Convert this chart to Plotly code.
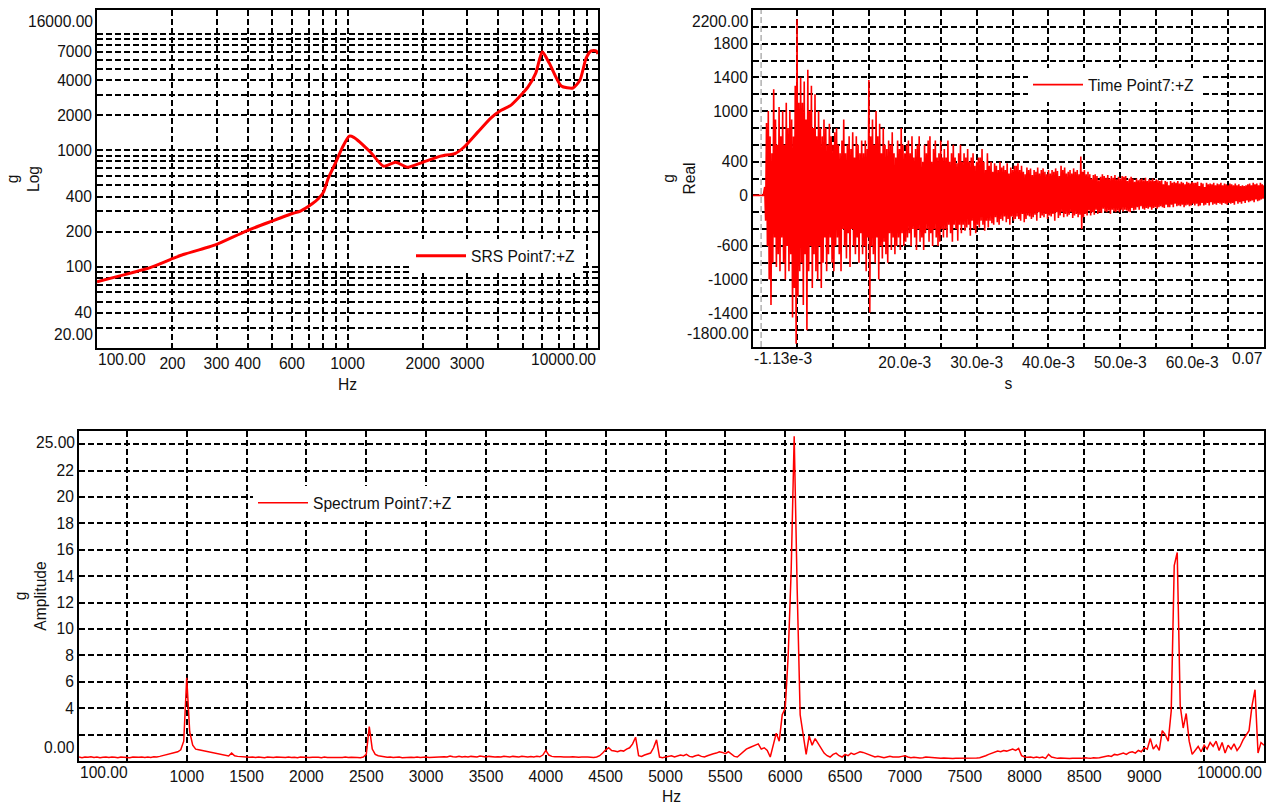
import numpy as np
import plotly.graph_objects as go

W, H = 1273, 805
FONT = "Liberation Sans, Arial, sans-serif"
FS = 15.6
RED = "#ff0000"
TXT = "#111111"

# ---------------- SRS (top-left) ----------------
srs_freq_hz = [100, 120, 139, 163, 200, 221, 275, 300, 398, 497, 603, 649, 725, 766, 801, 838,
               894, 955, 1016, 1059, 1236, 1393, 1556, 1741, 1995, 2353, 2700, 2914, 3311, 3733,
               4104, 4498, 5248, 5649, 5990, 6387, 7132, 7943, 8472, 8974, 9397, 9840, 10000]
srs_g = [74, 82, 89, 98, 117, 127, 146, 155, 204, 245, 286, 300, 348, 385, 434, 574,
         770, 1060, 1320, 1290, 961, 727, 787, 713, 787, 889, 941, 1060, 1430, 1890,
         2200, 2440, 3480, 4620, 7000, 5600, 3560, 3420, 4000, 6200, 7120, 7120, 6700]

srs_x_grid = [100, 200, 300, 400, 500, 600, 700, 800, 900,
              1000, 2000, 3000, 4000, 5000, 6000, 7000, 8000, 9000, 10000]
srs_x_labels = {200: "200", 300: "300", 400: "400", 600: "600",
                1000: "1000", 2000: "2000", 3000: "3000"}
srs_y_grid = [20, 30, 40, 50, 60, 70, 80, 90, 100, 200, 300, 400, 500, 600, 700, 800, 900,
              1000, 2000, 3000, 4000, 5000, 6000, 7000, 8000, 9000, 10000]
srs_y_labels = {40: "40", 100: "100", 200: "200", 400: "400", 1000: "1000",
                2000: "2000", 4000: "4000", 7000: "7000"}

# ---------------- Time (top-right) ----------------
time_pre_s = [-1.13e-3, 0.3e-3]
time_pre_g = [0, 0]
time_start_s = 0.5e-3
time_step_s = 0.125e-3
time_g = [
    # 0.5 - 5.375 ms
    100, -300, 860, -600, 1000, -1000, 700, -1300, 500, -800, 1260, -500, 900, -850, 600, -700, 1050, -900, 700, -500,
    1000, -800, 600, -1000, 1100, -600, 800, -900, 1000, -700, 900, -1450, 700, -1100, 1300, -1760, 2090, -1200, 1100, -900,
    # 5.5 - 10.375 ms
    1400, -800, 1100, -1300, 1350, -700, 900, -1600, 1490, -900, 1000, -600, 1300, -1100, 800, -700, 1200, -900, 700, -1000,
    1000, -600, 800, -1100, 700, -800, 900, -500, 800, -900, 600, -700, 850, -500, 700, -800, 600, -900, 750, -600,
    # 10.5 - 15.375 ms
    800, -500, 600, -700, 500, -900, 650, -400, 900, -600, 500, -750, 600, -450, 700, -850, 550, -400, 750, -600,
    450, -700, 700, -500, 600, -800, 500, -450, 650, -700, 500, -600, 650, -900, 550, -500, 1370, -1390, 700, -600,
    # 15.5 - 20.375 ms
    900, -700, 600, -800, 1000, -500, 700, -1000, 850, -600, 500, -750, 800, -550, 600, -700, 550, -800, 650, -450,
    600, -650, 750, -500, 500, -700, 450, -600, 650, -500, 550, -650, 800, -450, 600, -600, 500, -550, 600, -500,
    # 20.5 - 25.375 ms
    650, -450, 500, -600, 700, -400, 450, -500, 550, -650, 600, -400, 700, -550, 450, -500, 400, -650, 600, -450,
    500, -400, 650, -550, 700, -450, 400, -600, 550, -400, 650, -500, 450, -600, 500, -550, 650, -400, 450, -500,
    # 25.5 - 30.375 ms
    550, -400, 450, -500, 650, -350, 400, -450, 500, -550, 600, -350, 450, -400, 380, -540, 500, -350, 600, -450,
    400, -350, 500, -420, 450, -380, 550, -350, 400, -480, 450, -300, 500, -400, 350, -450, 400, -350, 450, -380,
    # 30.5 - 35.375 ms
    450, -300, 550, -350, 400, -420, 300, -300, 500, -380, 350, -300, 400, -330, 280, -350, 380, -260, 350, -320,
    300, -350, 400, -280, 330, -300, 350, -250, 300, -320, 380, -280, 260, -350, 330, -250, 300, -300, 350, -280,
    # 35.5 - 40.375 ms
    350, -250, 380, -280, 300, -300, 350, -220, 280, -320, 250, -280, 330, -240, 300, -250, 320, -280, 240, -260,
    300, -230, 280, -300, 330, -200, 260, -270, 300, -240, 320, -260, 280, -220, 250, -280, 300, -240, 260, -250,
    # 40.5 - 45.375 ms
    300, -220, 280, -300, 320, -200, 290, -270, 230, -240, 350, -200, 300, -260, 330, -220, 260, -250, 280, -230,
    300, -200, 260, -270, 320, -240, 280, -220, 300, -260, 250, -230, 460, -400, 280, -260, 300, -220, 250, -240,
    # 45.5 - 50.375 ms
    280, -180, 250, -240, 200, -200, 240, -230, 250, -170, 230, -220, 180, -200, 220, -210, 250, -160, 230, -190,
    210, -200, 240, -180, 200, -220, 230, -170, 210, -190, 240, -200, 190, -180, 220, -200, 200, -170, 230, -190,
    # 50.5 - 55.375 ms
    220, -170, 230, -180, 170, -190, 200, -200, 220, -150, 200, -180, 160, -170, 200, -140, 180, -170, 190, -130,
    200, -160, 180, -170, 210, -150, 170, -160, 190, -140, 180, -170, 200, -150, 170, -140, 190, -160, 180, -140,
    # 55.5 - 60.375 ms
    170, -130, 180, -140, 130, -150, 170, -110, 160, -140, 120, -140, 170, -110, 150, -140, 160, -100, 150, -130,
    170, -120, 140, -130, 160, -110, 150, -140, 130, -120, 160, -110, 150, -130, 140, -120, 160, -100, 150, -120,
    # 60.5 - 65.375 ms
    150, -100, 160, -130, 110, -120, 150, -90, 140, -120, 100, -110, 150, -90, 130, -120, 140, -80, 130, -110,
    150, -100, 120, -110, 140, -90, 130, -100, 150, -110, 120, -90, 140, -100, 130, -110, 120, -90, 140, -100,
    # 65.5 - 70.0 ms
    130, -90, 120, -110, 140, -70, 120, -100, 130, -80, 110, -100, 120, -70, 110, -90, 120, -60, 130, -80,
    140, -70, 120, -60, 150, -80, 130, -50, 140, -70, 120, -60, 150, -50, 130, -40, 120,
]
time_x_grid = [5e-3, 10e-3, 15e-3, 20e-3, 25e-3, 30e-3, 35e-3, 40e-3, 45e-3, 50e-3, 55e-3, 60e-3, 65e-3, 70e-3]
time_x_labels = {20e-3: "20.0e-3", 30e-3: "30.0e-3", 40e-3: "40.0e-3", 50e-3: "50.0e-3", 60e-3: "60.0e-3"}
time_y_grid = list(range(-1800, 2201, 200))
time_y_labels = {1800: "1800", 1400: "1400", 1000: "1000", 400: "400", 0: "0",
                 -600: "-600", -1000: "-1000", -1400: "-1400"}

# ---------------- Spectrum (bottom) ----------------
spec_start_hz = 100
spec_step_hz = 25
spec_g = [
    0.3, 0.25, 0.3, 0.28, 0.32, 0.27, 0.3, 0.25, 0.29, 0.31, 0.26, 0.3, 0.28, 0.24, 0.3, 0.27, 0.29, 0.25, 0.31, 0.28,
    0.28, 0.3, 0.26, 0.3, 0.27, 0.32, 0.3, 0.35, 0.4, 0.45, 0.5, 0.55, 0.6, 0.7, 0.85, 1.5, 6.3, 2.2, 1.2, 0.9,
    0.85, 0.8, 0.75, 0.7, 0.65, 0.6, 0.55, 0.5, 0.45, 0.4, 0.38, 0.6, 0.4, 0.35, 0.33, 0.3, 0.3, 0.28, 0.3, 0.27,
    0.3, 0.28, 0.25, 0.3, 0.27, 0.26, 0.3, 0.28, 0.25, 0.27, 0.3, 0.26, 0.28, 0.25, 0.3, 0.27, 0.29, 0.26, 0.28, 0.3,
    0.28, 0.25, 0.3, 0.27, 0.26, 0.3, 0.28, 0.25, 0.27, 0.3, 0.26, 0.28, 0.3, 0.27, 0.25, 0.3, 0.5, 2.6, 0.9, 0.5,
    0.4, 0.35, 0.3, 0.28, 0.3, 0.26, 0.28, 0.3, 0.25, 0.27, 0.3, 0.28, 0.26, 0.3, 0.27, 0.29, 0.3, 0.26, 0.28, 0.3,
    0.3, 0.35, 0.32, 0.3, 0.38, 0.33, 0.3, 0.36, 0.31, 0.34, 0.3, 0.35, 0.32, 0.3, 0.37, 0.33, 0.3, 0.35, 0.32, 0.3,
    0.33, 0.3, 0.36, 0.32, 0.3, 0.35, 0.33, 0.3, 0.36, 0.32, 0.3, 0.34, 0.31, 0.35, 0.32, 0.45, 0.8, 0.45, 0.35, 0.33,
    0.3, 0.32, 0.3, 0.28, 0.3, 0.33, 0.3, 0.28, 0.3, 0.32, 0.3, 0.28, 0.26, 0.3, 0.4, 0.6, 0.85, 1.0, 0.8, 0.75,
    0.7, 0.8, 0.75, 0.9, 1.0, 1.3, 1.8, 0.4, 0.35, 0.45, 0.5, 0.6, 1.0, 1.6, 0.3, 0.25, 0.3, 0.35, 0.4, 0.3,
    0.35, 0.45, 0.4, 0.5, 0.35, 0.3, 0.4, 0.45, 0.35, 0.3, 0.4, 0.5, 0.55, 0.6, 0.7, 0.65, 0.55, 0.7, 0.5, 0.35,
    0.3, 0.5, 0.7, 0.9, 1.0, 1.1, 1.2, 1.3, 0.9, 1.0, 0.8, 0.3, 1.2, 2.1, 1.5, 3.5, 4.0, 8.0, 14.5, 24.6,
    13.0, 3.5, 2.0, 0.5, 1.9, 1.2, 1.7, 1.3, 0.9, 0.6, 0.4, 0.3, 0.5, 0.6, 0.4, 0.3, 0.5, 0.4, 0.6, 0.5,
    0.6, 0.7, 0.65, 0.55, 0.5, 0.4, 0.3, 0.35, 0.3, 0.25, 0.3, 0.35, 0.3, 0.28, 0.3, 0.35, 0.4, 0.3, 0.25, 0.28,
    0.25, 0.22, 0.25, 0.3, 0.28, 0.25, 0.22, 0.2, 0.2, 0.22, 0.2, 0.2, 0.18, 0.2, 0.2, 0.18, 0.2, 0.2, 0.22, 0.2,
    0.22, 0.25, 0.3, 0.4, 0.5, 0.6, 0.7, 0.75, 0.7, 0.8, 0.75, 0.85, 0.9, 0.8, 0.95, 0.4, 0.3, 0.28, 0.3, 0.25,
    0.3, 0.25, 0.3, 0.2, 0.5, 0.3, 0.25, 0.2, 0.22, 0.2, 0.2, 0.18, 0.2, 0.22, 0.2, 0.2, 0.25, 0.22, 0.2, 0.25,
    0.22, 0.25, 0.3, 0.3, 0.4, 0.35, 0.5, 0.45, 0.55, 0.6, 0.5, 0.65, 0.7, 0.6, 0.8, 0.7, 1.0, 0.9, 1.7, 0.9,
    1.2, 0.8, 2.3, 2.0, 1.5, 3.8, 14.8, 15.8, 4.2, 2.5, 3.6, 1.5, 0.5, 0.8, 1.1, 0.7, 1.2, 0.9, 1.4, 1.1,
    1.5, 0.8, 1.4, 0.6, 1.2, 0.9, 1.3, 0.8, 1.1, 1.6, 2.0, 2.3, 4.2, 5.4, 0.6, 1.4, 1.2,
]
spec_x_grid = list(range(500, 10001, 500))
spec_x_labels = {v: str(v) for v in range(1000, 9001, 500)}
spec_y_grid = list(range(2, 25, 2))
spec_y_labels = {v: str(v) for v in range(4, 23, 2)}

# ---------------- derived arrays ----------------
time_s = list(time_pre_s) + [time_start_s + i * time_step_s for i in range(len(time_g))]
time_vals = list(time_pre_g) + list(time_g)
spec_hz = [spec_start_hz + i * spec_step_hz for i in range(len(spec_g))]


def ticks(grid, labels):
    return grid, [labels.get(v, "") for v in grid]


def axis(grid, labels, **kw):
    tv, tt = ticks(grid, labels)
    d = dict(showline=True, linecolor="black", linewidth=2, mirror=True,
             showgrid=True, gridcolor="black", griddash="6px,3px", gridwidth=1.6,
             zeroline=False, ticks="", tickvals=tv, ticktext=tt,
             tickfont=dict(family=FONT, size=FS, color=TXT), automargin=False,
             title_font=dict(family=FONT, size=FS, color=TXT))
    d.update(kw)
    return d


fig = go.Figure()
fig.add_trace(go.Scatter(x=srs_freq_hz, y=srs_g, mode="lines", name="SRS Point7:+Z",
                         line=dict(color=RED, width=3, shape="spline", smoothing=0.6),
                         xaxis="x", yaxis="y", legend="legend"))
fig.add_trace(go.Scatter(x=time_s, y=time_vals, mode="lines", name="Time Point7:+Z",
                         line=dict(color=RED, width=1.6, simplify=False),
                         xaxis="x2", yaxis="y2", legend="legend2"))
fig.add_trace(go.Scatter(x=spec_hz, y=spec_g, mode="lines", name="Spectrum Point7:+Z",
                         line=dict(color=RED, width=1.5),
                         xaxis="x3", yaxis="y3", legend="legend3"))

d1x = [97 / W, 598 / W]
d1y = [1 - 348 / H, 1 - 10 / H]
d2x = [753 / W, 1264 / W]
d2y = [1 - 347 / H, 1 - 10 / H]
d3x = [79 / W, 1264 / W]
d3y = [1 - 761 / H, 1 - 431 / H]

leg_common = dict(bgcolor="white", borderwidth=0, font=dict(family=FONT, size=FS, color=TXT),
                  xanchor="left", yanchor="middle", itemwidth=50)

fig.update_layout(
    width=W, height=H, template="none",
    margin=dict(l=0, r=0, t=0, b=0),
    paper_bgcolor="white", plot_bgcolor="white",
    xaxis=axis(srs_x_grid, srs_x_labels, type="log", range=[2, 4], domain=d1x, anchor="y",
               title=dict(text="Hz", standoff=8)),
    yaxis=axis(srs_y_grid, srs_y_labels, type="log", range=[np.log10(20), np.log10(16000)],
               domain=d1y, anchor="x", title=dict(text="g<br>Log", standoff=14)),
    xaxis2=axis(time_x_grid, time_x_labels, range=[-1.13e-3, 0.07], domain=d2x, anchor="y2",
                title=dict(text="s", standoff=8)),
    yaxis2=axis(time_y_grid, time_y_labels, range=[-1800, 2200], domain=d2y, anchor="x2",
                title=dict(text="g<br>Real", standoff=9)),
    xaxis3=axis(spec_x_grid, spec_x_labels, range=[100, 10000], domain=d3x, anchor="y3",
                title=dict(text="Hz", standoff=8)),
    yaxis3=axis(spec_y_grid, spec_y_labels, range=[0, 25], domain=d3y, anchor="x3",
                title=dict(text="g<br>Amplitude", standoff=6)),
    legend=dict(x=411 / W, y=1 - 256 / H, **leg_common),
    legend2=dict(x=1028 / W, y=1 - 85 / H, **leg_common),
    legend3=dict(x=253 / W, y=1 - 503 / H, **leg_common),
    showlegend=True,
)

# zero reference line on the time plot (light dashed cursor)
fig.add_shape(type="line", xref="x2", yref="y2 domain", x0=0, x1=0, y0=0, y1=1,
              line=dict(color="#b0b0b0", width=1.5, dash="6px,3px"), layer="below")


def end_label(text, xaxis, yaxis, x, y, xanchor, yanchor, xshift=0, yshift=0):
    fig.add_annotation(text=text, xref=f"{xaxis} domain", yref=f"{yaxis} domain", x=x, y=y,
                       xanchor=xanchor, yanchor=yanchor, xshift=xshift, yshift=yshift,
                       showarrow=False, font=dict(family=FONT, size=FS, color=TXT))


for xa, ya, xl, xr, yt, yb in [("x", "y", "100.00", "10000.00", "16000.00", "20.00"),
                               ("x2", "y2", "-1.13e-3", "0.07", "2200.00", "-1800.00"),
                               ("x3", "y3", "100.00", "10000.00", "25.00", "0.00")]:
    end_label(xl, xa, ya, 0, 0, "left", "top", xshift=-1, yshift=-1)
    end_label(xr, xa, ya, 1, 0, "right", "top", xshift=0, yshift=-1)
    end_label(yt, xa, ya, 0, 1, "right", "top", xshift=-2, yshift=-1)
    end_label(yb, xa, ya, 0, 0, "right", "bottom", xshift=-2, yshift=3)

fig.write_html("out.html")
